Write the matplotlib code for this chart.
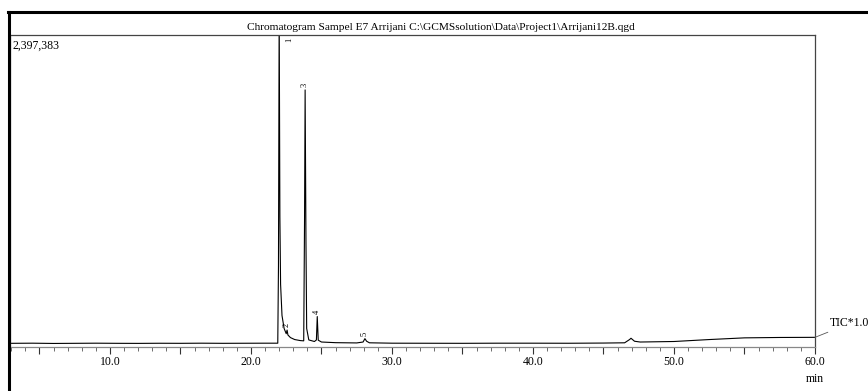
import numpy as np
import matplotlib.pyplot as plt
from matplotlib.lines import Line2D
from matplotlib.ticker import MultipleLocator, FuncFormatter

plt.rcParams['font.family'] = ['Liberation Serif', 'DejaVu Serif']

# Trace (retention time in min, TIC counts)
rt = [3.0, 4.5, 6.0, 7.5, 9.0, 10.5, 12.0, 13.5, 15.0, 16.5, 18.0, 19.5, 21.0, 21.9,
      21.95, 22.0, 22.05, 22.1, 22.2, 22.35, 22.5, 22.56, 22.62, 22.8, 23.1, 23.5, 23.74,
      23.8, 23.84, 23.9, 23.95, 24.1, 24.5, 24.64, 24.7, 24.77, 25.0, 26.0, 27.5, 27.95,
      28.08, 28.2, 28.4, 30.0, 32.5, 35.0, 37.5, 40.0, 42.5, 45.0, 46.5, 46.85, 46.95,
      47.2, 47.6, 50.0, 52.5, 55.0, 57.5, 60.0]
tic = [26000, 27000, 25000, 26000, 27000, 26000, 25500, 26500, 26000, 27000, 26000, 26500,
       27000, 27000, 620000, 2600000, 1000000, 480000, 240000, 140000, 100000, 128000,
       90000, 70000, 55000, 47000, 45000, 1000000, 1975000, 800000, 140000, 52000, 40000,
       52000, 232000, 50000, 36000, 31000, 29000, 36000, 62000, 42000, 30000, 27000, 26500,
       26000, 27000, 27000, 26500, 28000, 30000, 55000, 65000, 42000, 36000, 40000, 55000,
       68000, 71000, 72000]

# Peak annotations
peak_labels = ['1', '2', '3', '4', '5']
peak_rt = [22.0, 22.56, 23.84, 24.7, 28.08]
peak_top = [2397383, 128000, 1975000, 232000, 62000]
full_scale = 2397383

fig = plt.figure(figsize=(8.68, 3.91), dpi=100)
ax = fig.add_axes([10 / 868, 1 - 346.7 / 391, 805 / 868, 311.7 / 391])

ax.plot(rt, tic, color='black', lw=0.8)
ax.set_xlim(2.91, 60)
ax.set_ylim(0, full_scale)

ax.xaxis.set_major_locator(MultipleLocator(5))
ax.xaxis.set_minor_locator(MultipleLocator(1))
ax.xaxis.set_major_formatter(FuncFormatter(lambda v, p: f'{v:.1f}' if v % 10 == 0 else ''))
ax.tick_params(axis='x', which='major', length=5, width=0.8, color='#333333',
               labelsize=8.5, pad=2)
ax.tick_params(axis='x', which='minor', length=3, width=0.6, color='#555555')
ax.set_yticks([])

for side in ['top', 'right', 'left']:
    ax.spines[side].set_color('#444444')
    ax.spines[side].set_linewidth(0.9)
ax.spines['bottom'].set_color('#888888')
ax.spines['bottom'].set_linewidth(0.9)

# peak numbers
for lab, x, y in zip(peak_labels, peak_rt, peak_top):
    if y >= full_scale:
        ax.annotate(lab, xy=(x, full_scale), xytext=(7, -2), textcoords='offset points',
                    rotation=90, fontsize=6, ha='center', va='top')
    else:
        ax.annotate(lab, xy=(x, y), xytext=(-0.5, 2), textcoords='offset points',
                    rotation=90, fontsize=6, ha='center', va='bottom')

ax.text(0.003, 0.985, f'{full_scale:,}', transform=ax.transAxes, fontsize=8.5,
        ha='left', va='top')

ax.annotate('TIC*1.0', xy=(rt[-1], tic[-1]), xytext=(11, 10), textcoords='offset points',
            fontsize=8.5, ha='left', va='center', annotation_clip=False,
            arrowprops=dict(arrowstyle='-', color='#555555', lw=0.6, shrinkA=0, shrinkB=0))
ax.text(1.0, -0.083, 'min', transform=ax.transAxes, fontsize=8.5, ha='center', va='top')

fig.text(441 / 868, 1 - 27 / 391,
         r'Chromatogram Sampel E7 Arrijani C:\GCMSsolution\Data\Project1\Arrijani12B.qgd',
         fontsize=8.2, ha='center', va='center')

# outer frame lines
fig.add_artist(Line2D([8 / 868, 1], [1 - 12 / 391] * 2, color='black', lw=2.2))
fig.add_artist(Line2D([9.3 / 868] * 2, [0, 1 - 12 / 391], color='black', lw=2.2))

fig.savefig('out.png', dpi=100)
